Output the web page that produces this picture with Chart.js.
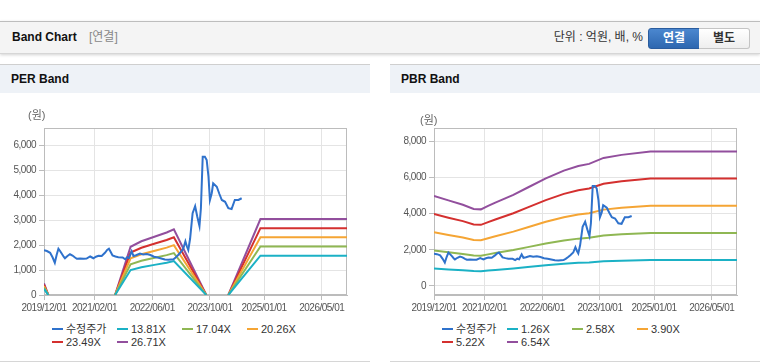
<!DOCTYPE html>
<html><head><meta charset="utf-8">
<script src="https://cdn.jsdelivr.net/npm/chart.js@4.4.1/dist/chart.umd.min.js"></script>
<style>
html,body{margin:0;padding:0;background:#fff;width:760px;height:364px;overflow:hidden;font-family:"Liberation Sans","Noto Sans CJK KR",Arial,sans-serif;color:#222;}
#top{position:absolute;left:0;top:21px;width:760px;height:31px;background:#f4f4f4;border-top:1px solid #bdbdbd;border-bottom:1px solid #d6d6d6;box-shadow:0 1px 3px rgba(0,0,0,0.18);}
#top .t{position:absolute;left:12px;top:0;line-height:31px;font-size:12px;font-weight:bold;color:#111;}
#top .c{position:absolute;left:89px;top:0;line-height:31px;font-size:12px;color:#888;}
#top .u{position:absolute;right:117px;top:0;line-height:31px;font-size:12px;color:#333;}
.btn{position:absolute;top:6px;height:19px;line-height:19px;font-size:12px;font-weight:bold;text-align:center;}
#b1{left:648px;width:50px;background:linear-gradient(#4b87cf,#2d67b0);border:1px solid #2a5c9e;border-radius:3px 0 0 3px;color:#fff;}
#b2{left:699px;width:50px;background:linear-gradient(#ffffff,#eeeeee);border:1px solid #c4c4c4;border-left:none;border-radius:0 3px 3px 0;color:#333;}
.panel{position:absolute;top:64px;width:370px;height:296px;border-top:1px solid #cfcfcf;border-bottom:1px solid #d6d6d6;background:#fff;}
.panel .hd{height:28px;line-height:29px;background:#eef2f7;font-size:12px;font-weight:bold;color:#111;padding-left:11px;}
.unit{position:absolute;font-size:11px;color:#666;}
canvas{position:absolute;top:108px;}
.lg{position:absolute;font-size:11px;color:#333;}
.lg .it{position:absolute;white-space:nowrap;height:13px;line-height:13px;}
.lg .sw{display:inline-block;width:11px;height:2px;vertical-align:middle;margin-right:3px;position:relative;top:-1px;}
</style></head>
<body>
<div id="top"><span class="t">Band Chart</span><span class="c">[연결]</span><span class="u">단위 : 억원, 배, %</span>
<div class="btn" id="b1">연결</div><div class="btn" id="b2">별도</div></div>
<div class="panel" style="left:0"><div class="hd">PER Band</div></div>
<div class="panel" style="left:390px"><div class="hd">PBR Band</div></div>
<canvas id="per" width="370" height="210" style="left:0;width:370px;height:210px"></canvas>
<canvas id="pbr" width="370" height="210" style="left:390px;width:370px;height:210px"></canvas>
<div class="unit" style="left:28px;top:106px">(원)</div>
<div class="unit" style="left:420px;top:111px">(원)</div>
<div class="lg" id="lgPer" style="left:52px;top:323px"></div>
<div class="lg" id="lgPbr" style="left:442px;top:323px"></div>
<script>
// x axis: months since 2019/12/01
const xTickMonths = [0, 14, 30, 46, 61, 77];
const xTickLabels = ['2019/12/01', '2021/02/01', '2022/06/01', '2023/10/01', '2025/01/01', '2026/05/01'];
const perYTicks = [0, 1000, 2000, 3000, 4000, 5000, 6000];
const pbrYTicks = [0, 2000, 4000, 6000, 8000];

// 수정주가 (adjusted price)
const priceMonths = [0,0.8,1.7,2.4,3.0,3.5,4.0,4.5,4.9,5.5,5.8,6.5,7.2,7.9,8.6,9.1,10,11,11.8,12.8,13.7,14.4,15.1,16,16.9,17.5,18.0,18.5,19.0,19.8,20.6,21.8,22.5,23.1,23.6,24.3,24.8,25.5,26.6,27.5,28.5,29.5,30.5,31.5,32.5,33.5,34.5,35.9,36.5,37.2,37.8,38.6,39.2,39.6,40.0,40.5,41.2,41.9,42.5,43.1,43.5,44.0,44.6,45.1,45.6,46.0,46.5,46.9,47.9,48.6,49.3,50.2,51.1,52.0,52.9,53.9,54.8];
const priceValues = [1790,1760,1690,1500,1290,1600,1850,1750,1660,1520,1470,1560,1630,1580,1500,1450,1460,1450,1455,1540,1470,1530,1570,1560,1690,1800,1850,1720,1580,1540,1510,1500,1430,1510,1480,1750,1560,1590,1660,1620,1640,1600,1530,1500,1460,1420,1410,1430,1500,1600,1700,1850,2150,1950,1800,2250,3270,3550,3130,2760,3470,5530,5530,5400,4730,3800,4070,4470,4330,4050,3800,3730,3470,3440,3800,3800,3870];

// PER bands
const perBandMonths = [0, 1.2, 10, 19.7, 24, 27, 31, 34, 36, 45, 48, 51.1, 60, 84];
const per1381 = [243, 0, null, 0, 998, 1112, 1215, 1293, 1359, 0, null, 0, 1572, 1572];
const per1704 = [300, 0, null, 0, 1232, 1372, 1499, 1595, 1677, 0, null, 0, 1939, 1939];
const per2026 = [357, 0, null, 0, 1465, 1631, 1783, 1896, 1994, 0, null, 0, 2306, 2306];
const per2349 = [413, 0, null, 0, 1698, 1891, 2067, 2199, 2311, 0, null, 0, 2673, 2673];
const per2671 = [470, 0, null, 0, 1930, 2150, 2350, 2500, 2627, 0, null, 0, 3040, 3040];

// PBR bands
const pbrBandMonths = [0, 4, 8, 11, 13, 15, 17, 22, 26, 31, 36, 40, 43, 47, 52, 60, 84];
const pbr126 = [960,912,866,822,816,853,888,971,1050,1147,1230,1279,1302,1365,1397,1434,1434];
const pbr258 = [1966,1868,1772,1682,1672,1747,1819,1989,2149,2348,2518,2619,2665,2794,2861,2936,2936];
const pbr390 = [2972,2824,2679,2543,2527,2640,2750,3007,3249,3549,3806,3959,4029,4224,4325,4438,4438];
const pbr522 = [3978,3779,3586,3403,3383,3534,3680,4025,4348,4750,5095,5298,5392,5653,5789,5940,5940];
const pbr654 = [4983,4735,4493,4264,4238,4428,4611,5042,5448,5951,6383,6638,6756,7083,7253,7443,7443];

const perNames = ['수정주가', '13.81X', '17.04X', '20.26X', '23.49X', '26.71X'];
const pbrNames = ['수정주가', '1.26X', '2.58X', '3.90X', '5.22X', '6.54X'];
const colors = ['#2f72cc', '#1bb1c5', '#8fb753', '#f5a534', '#d4302f', '#924f9d'];

const pts = (xs, ys) => xs.map((x, i) => ({x: x, y: ys[i]}));

const framePlugin = {
  id: 'frame',
  beforeDraw(chart) { chart.ctx.letterSpacing = '-0.5px'; },
  beforeDatasetsDraw(chart) {
    const a = chart.chartArea, c = chart.ctx;
    c.save(); c.strokeStyle = '#bcbcbc'; c.lineWidth = 1;
    c.strokeRect(Math.round(a.left) + 0.5, Math.round(a.top) + 0.5, Math.round(a.right - a.left) - 1, Math.round(a.bottom - a.top) - 1);
    c.restore();
  }
};

function makeChart(id, names, series, yMin, yMax, yTicks) {
  const ds = series.map((s, i) => ({
    label: names[i], data: pts(s[0], s[1]), borderColor: colors[i], backgroundColor: colors[i],
    borderWidth: 2, pointRadius: 0, tension: 0, spanGaps: false, fill: false
  }));
  return new Chart(document.getElementById(id), {
    type: 'line',
    data: {datasets: ds},
    options: {
      responsive: false, animation: false, devicePixelRatio: 1,
      layout: {padding: {top: 20, right: 23, left: 0, bottom: 0}},
      plugins: {legend: {display: false}, tooltip: {enabled: false}},
      scales: {
        x: {
          type: 'linear', min: 0, max: 84,
          afterBuildTicks: s => { s.ticks = xTickMonths.map(v => ({value: v})); },
          afterFit: s => { s.height = 23; },
          ticks: {autoSkip: false, maxRotation: 0, padding: 2, color: '#555', font: {size: 10, family: "'Liberation Sans', Arial, sans-serif"},
                  callback: (v, i) => xTickLabels[i]},
          grid: {color: '#e4e4e4', tickColor: '#bcbcbc', tickLength: 5},
          border: {color: '#bcbcbc'}
        },
        y: {
          min: yMin, max: yMax,
          afterBuildTicks: s => { s.ticks = yTicks.map(v => ({value: v})); },
          afterFit: s => { s.width = 44; },
          ticks: {padding: 3, color: '#555', font: {size: 10, family: "'Liberation Sans', Arial, sans-serif"},
                  callback: v => v.toLocaleString('en-US')},
          grid: {color: '#e4e4e4', tickColor: '#bcbcbc', tickLength: 5},
          border: {color: '#bcbcbc'}
        }
      }
    },
    plugins: [framePlugin]
  });
}

makeChart('per', perNames, [
  [priceMonths, priceValues], [perBandMonths, per1381], [perBandMonths, per1704],
  [perBandMonths, per2026], [perBandMonths, per2349], [perBandMonths, per2671]
], 0, 6680, perYTicks);

makeChart('pbr', pbrNames, [
  [priceMonths, priceValues], [pbrBandMonths, pbr126], [pbrBandMonths, pbr258],
  [pbrBandMonths, pbr390], [pbrBandMonths, pbr522], [pbrBandMonths, pbr654]
], -500, 8740, pbrYTicks);

function legend(id, names) {
  const el = document.getElementById(id);
  names.forEach((n, i) => {
    const d = document.createElement('div');
    d.className = 'it';
    d.style.left = (i % 4) * 65 + 'px';
    d.style.top = Math.floor(i / 4) * 13 + 'px';
    d.innerHTML = '<span class="sw" style="background:' + colors[i] + '"></span>' + n;
    el.appendChild(d);
  });
}
legend('lgPer', perNames);
legend('lgPbr', pbrNames);
</script>
</body></html>
